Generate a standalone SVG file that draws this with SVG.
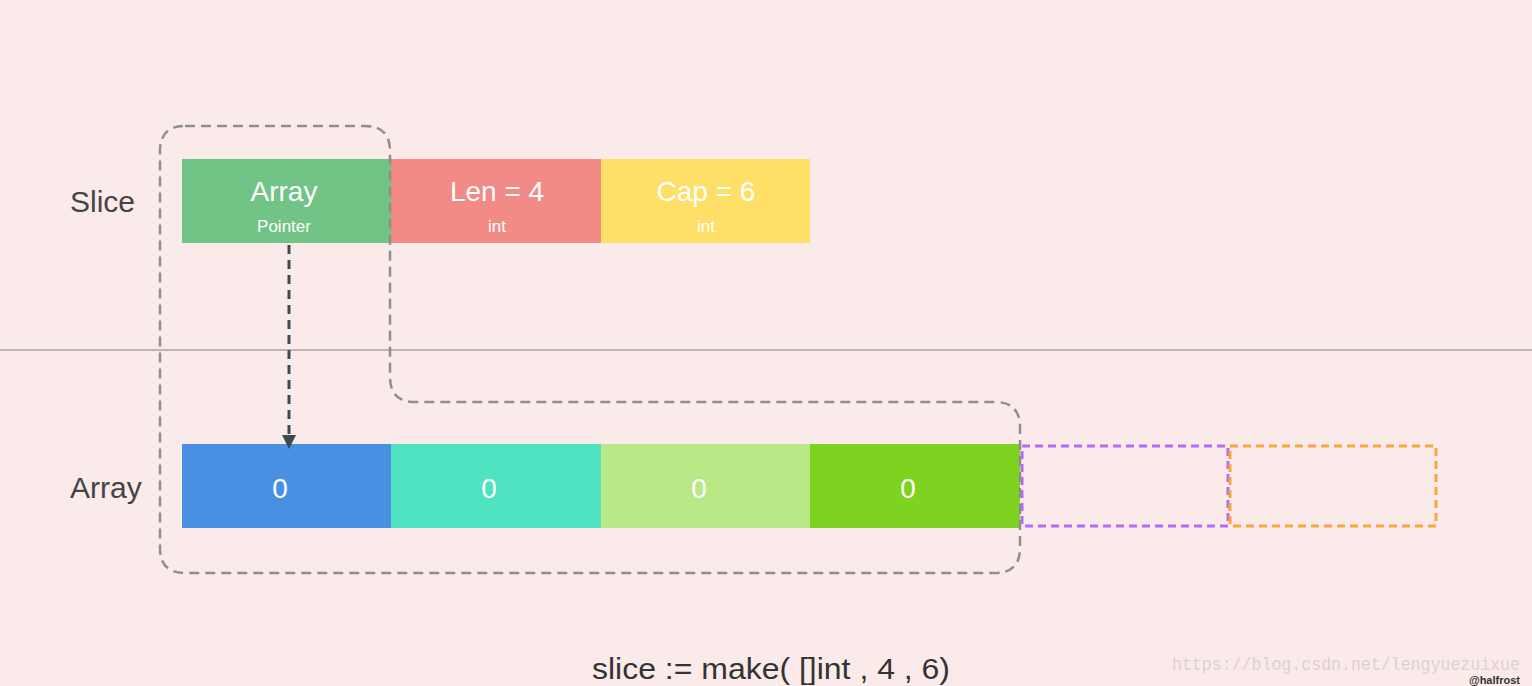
<svg xmlns="http://www.w3.org/2000/svg" width="1532" height="686" viewBox="0 0 1532 686">
<style>
.t{font-family:"Helvetica Neue","Liberation Sans",Arial,sans-serif;fill:#fff;text-anchor:middle}
.big{font-size:28px}.sm{font-size:17px}
.lbl{font-family:"Liberation Sans",Arial,sans-serif;font-size:30px;fill:#444}
</style>
<defs><marker id="ah" markerWidth="14" markerHeight="14" refX="7" refY="7" orient="auto" markerUnits="userSpaceOnUse" viewBox="0 0 14 14"><path d="M0,0 L14,7 L0,14z" fill="#3d4a52"/></marker></defs>
<rect width="1532" height="686" fill="#fbeaea"/>
<line x1="0" y1="350" x2="1532" y2="350" stroke="#bdb5b5" stroke-width="2"/>
<text class="lbl" x="70" y="212">Slice</text>
<text class="lbl" x="70" y="498">Array</text>
<g id="slice-array"><rect x="182" y="159" width="209" height="84" fill="#72c386"/><text class="t big" x="284" y="201">Array</text><text class="t sm" x="284" y="232">Pointer</text></g>
<g id="slice-len"><rect x="391" y="159" width="210" height="84" fill="#f28a86"/><text class="t big" x="497" y="201">Len = 4</text><text class="t sm" x="497" y="232">int</text></g>
<g id="slice-cap"><rect x="601" y="159" width="209" height="84" fill="#fedf68"/><text class="t big" x="706" y="201">Cap = 6</text><text class="t sm" x="706" y="232">int</text></g>
<g id="a0"><rect x="182" y="444" width="209" height="84" fill="#4a90e2"/><text class="t big" x="280" y="498">0</text></g>
<g id="a1"><rect x="391" y="444" width="210" height="84" fill="#50e3c2"/><text class="t big" x="489" y="498">0</text></g>
<g id="a2"><rect x="601" y="444" width="209" height="84" fill="#b8e986"/><text class="t big" x="699" y="498">0</text></g>
<g id="a3"><rect x="810" y="444" width="210" height="84" fill="#7ed321"/><text class="t big" x="908" y="498">0</text></g>
<g id="a4"><rect x="1022" y="446" width="206" height="80" fill="none" stroke="#b36bf5" stroke-width="3" stroke-dasharray="8,5"/></g>
<g id="a5"><rect x="1230" y="446" width="206" height="80" fill="none" stroke="#f5a73b" stroke-width="3" stroke-dasharray="8,5"/></g>
<g id="connectors">
<path d="M185,126 H365 Q390,126 390,151 V377 Q390,402 415,402 H995 Q1020,402 1020,427 V548 Q1020,573 995,573 H185 Q160,573 160,548 V151 Q160,126 185,126Z" fill="none" stroke="#8e8e8e" stroke-width="2.5" stroke-dasharray="10,6"/>
<line x1="289" y1="245" x2="289" y2="442" stroke="#3d4a52" stroke-width="3" stroke-dasharray="9,6" marker-end="url(#ah)"/>
</g>
<text x="592" y="679" font-family="Liberation Sans,Arial,sans-serif" font-size="29" fill="#333" textLength="358" lengthAdjust="spacingAndGlyphs">slice := make( []int , 4 , 6)</text>
<text x="1172" y="670" font-family="Liberation Mono,monospace" font-size="19" fill="#ddd0d0" textLength="348" lengthAdjust="spacingAndGlyphs">https://blog.csdn.net/lengyuezuixue</text>
<text x="1520" y="684" font-family="Liberation Sans,Arial,sans-serif" font-size="11" font-weight="bold" fill="#333" text-anchor="end">@halfrost</text>
</svg>
